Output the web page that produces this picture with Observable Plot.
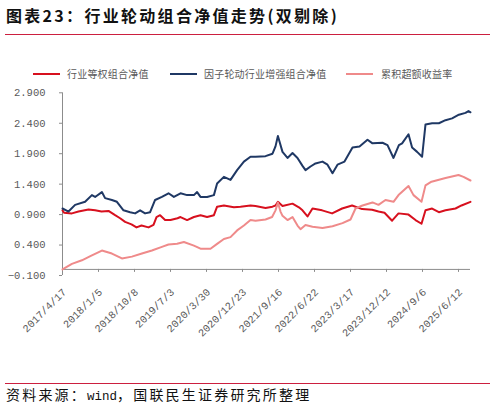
<!DOCTYPE html>
<html>
<head>
<meta charset="utf-8">
<script src="https://cdn.jsdelivr.net/npm/d3@7"></script>
<script src="https://cdn.jsdelivr.net/npm/@observablehq/plot@0.6"></script>
<style>
  body { margin: 0; background: #fff; }
  #wrap { position: relative; width: 495px; height: 407px; overflow: hidden; font-family: "Noto Sans CJK SC", sans-serif; }
  #title { position: absolute; left: 6px; top: 3px; font-size: 16px; font-weight: bold; letter-spacing: 2.3px; color: #111; white-space: nowrap; }
  .rule { position: absolute; left: 5px; width: 485px; height: 1px; background: #cc1f3f; }
  .leg { position: absolute; top: 67px; font-size: 10px; letter-spacing: 0.2px; color: #595959; white-space: nowrap; line-height: 14px; }
  .sw { position: absolute; top: 73px; height: 2px; }
  #chart { position: absolute; left: 0; top: 85px; }
  #caption { position: absolute; left: 6px; top: 385px; font-size: 14px; letter-spacing: 2.2px; color: #111; white-space: nowrap; line-height: 18px; }
  #caption .en { font-family: "Liberation Mono", monospace; font-size: 12.5px; letter-spacing: 0; }
</style>
</head>
<body>
<div id="wrap">
  <div id="title"></div>
  <div class="rule" style="top:34px"></div>
  <div id="legend"></div>
  <div id="chart"></div>
  <div class="rule" style="top:383px"></div>
  <div id="caption">资料来源：<span class="en">wind</span>，国联民生证券研究所整理</div>
</div>
<script>
const titleText = "图表23：行业轮动组合净值走势(双剔除)";
const seriesNames = ["行业等权组合净值", "因子轮动行业增强组合净值", "累积超额收益率"];
const seriesColors = ["#d7101e", "#1f3864", "#ef8a8a"];

const tickDays = [0, 180, 360, 540, 720, 900, 1080, 1260, 1440, 1620, 1800, 1980];
const tickLabels = ["2017/4/17", "2018/1/5", "2018/10/8", "2019/7/3", "2020/3/30", "2020/12/23",
  "2021/9/16", "2022/6/22", "2023/3/17", "2023/12/12", "2024/9/6", "2025/6/12"];
const yTicks = [-0.1, 0.4, 0.9, 1.4, 1.9, 2.4, 2.9];

// 行业等权组合净值 (trading-day index, value)
const redDay = [0, 8, 47, 80, 130, 163, 195, 230, 263, 288, 313, 345, 370, 395, 430, 455, 470, 488, 513, 540,
  575, 590, 623, 657, 690, 723, 757, 773, 807, 857, 890, 940, 965, 1015, 1050, 1065, 1077, 1100, 1150, 1182,
  1200, 1225, 1250, 1298, 1348, 1398, 1448, 1498, 1548, 1580, 1610, 1648, 1680, 1730, 1765, 1795, 1815, 1848,
  1882, 1915, 1965, 1995, 2040];
const redVal = [0.97, 0.93, 0.92, 0.95, 0.985, 0.97, 0.95, 0.96, 0.89, 0.84, 0.78, 0.74, 0.69, 0.72, 0.69, 0.73, 0.86, 0.89, 0.81, 0.81,
  0.84, 0.86, 0.81, 0.86, 0.89, 0.86, 0.89, 1.03, 1.05, 1.02, 1.03, 1.05, 1.04, 1.01, 1.03, 1.05, 1.11, 1.04, 1.08, 1.02,
  0.97, 0.87, 1.00, 0.97, 0.92, 1.00, 1.05, 0.99, 0.98, 0.95, 0.93, 0.80, 0.92, 0.90, 0.81, 0.75, 0.97, 1.00,
  0.94, 0.97, 1.00, 1.05, 1.11];

// 因子轮动行业增强组合净值
const blueDay = [0, 30, 63, 113, 147, 163, 197, 213, 247, 272, 305, 338, 363, 388, 413, 438, 463, 497, 530, 557,
  590, 623, 657, 673, 690, 723, 757, 773, 807, 840, 873, 907, 940, 965, 1015, 1050, 1065, 1077, 1100, 1125,
  1150, 1175, 1200, 1215, 1240, 1265, 1300, 1325, 1350, 1375, 1410, 1450, 1485, 1525, 1550, 1600, 1625, 1655,
  1682, 1698, 1730, 1748, 1773, 1798, 1815, 1848, 1882, 1915, 1948, 1982, 2015, 2030, 2040];
const blueVal = [1.00, 0.95, 1.06, 1.11, 1.22, 1.19, 1.27, 1.17, 1.14, 1.11, 0.97, 0.94, 0.92, 0.97, 0.92, 0.94, 1.14, 1.19, 1.25, 1.19,
  1.25, 1.22, 1.22, 1.27, 1.19, 1.19, 1.22, 1.41, 1.52, 1.47, 1.63, 1.77, 1.85, 1.85, 1.86, 1.90, 2.02, 2.19, 1.93, 1.83,
  1.91, 1.83, 1.70, 1.63, 1.69, 1.74, 1.77, 1.72, 1.58, 1.72, 1.77, 2.00, 2.02, 2.13, 2.07, 2.08, 2.04, 1.83,
  2.04, 2.07, 2.22, 2.00, 1.93, 1.85, 2.38, 2.40, 2.40, 2.45, 2.48, 2.54, 2.57, 2.60, 2.58];

// 累积超额收益率
const pinkDay = [0, 47, 97, 147, 197, 247, 297, 347, 397, 447, 497, 530, 573, 607, 657, 690, 740, 773, 807, 840,
  873, 907, 940, 965, 1015, 1048, 1065, 1077, 1090, 1100, 1125, 1150, 1175, 1190, 1215, 1250, 1300, 1350, 1400,
  1440, 1465, 1500, 1550, 1580, 1615, 1655, 1680, 1730, 1755, 1795, 1815, 1845, 1915, 1980, 2005, 2040];
const pinkVal = [0.00, 0.09, 0.15, 0.23, 0.31, 0.26, 0.18, 0.21, 0.26, 0.31, 0.37, 0.41, 0.42, 0.45, 0.39, 0.34, 0.34, 0.42, 0.50, 0.53,
  0.64, 0.72, 0.81, 0.80, 0.82, 0.86, 0.97, 1.10, 0.95, 0.88, 0.81, 0.86, 0.72, 0.66, 0.73, 0.70, 0.68, 0.71, 0.76,
  0.82, 1.00, 1.05, 1.10, 1.06, 1.14, 1.11, 1.22, 1.37, 1.22, 1.11, 1.38, 1.44, 1.50, 1.55, 1.52, 1.46];

document.getElementById("title").textContent = titleText;

// legend
const legPos = [[33, 67], [170, 204], [346, 381]];
const legend = document.getElementById("legend");
seriesNames.forEach((name, i) => {
  const sw = document.createElement("div");
  sw.className = "sw";
  sw.style.left = legPos[i][0] + "px";
  sw.style.width = "27px";
  sw.style.background = seriesColors[i];
  legend.appendChild(sw);
  const t = document.createElement("div");
  t.className = "leg";
  t.style.left = legPos[i][1] + "px";
  t.textContent = name;
  legend.appendChild(t);
});

const rows = [];
redDay.forEach((d, i) => rows.push({s: seriesNames[0], day: d, v: redVal[i]}));
blueDay.forEach((d, i) => rows.push({s: seriesNames[1], day: d, v: blueVal[i]}));
pinkDay.forEach((d, i) => rows.push({s: seriesNames[2], day: d, v: pinkVal[i]}));

const axisGray = "#8c8c8c";
const labelGray = "#595959";

const chart = Plot.plot({
  width: 495,
  height: 255,
  marginLeft: 62,
  marginRight: 25,
  marginTop: 7.3,
  marginBottom: 71.1,
  style: {fontFamily: "'Liberation Mono', 'DejaVu Sans Mono', monospace", fontSize: "10.5px", color: labelGray, background: "transparent"},
  x: {domain: [0, 2040], label: null},
  y: {domain: [-0.1, 2.9], range: [190, 7.3], label: null},
  color: {domain: seriesNames, range: seriesColors},
  marks: [
    Plot.ruleX([0], {y1: -0.1, y2: 2.9, stroke: axisGray}),
    Plot.ruleY([0], {stroke: axisGray}),
    Plot.axisY({ticks: yTicks, tickSize: 3, tickPadding: 14, tickFormat: d3.format(".3f"), stroke: axisGray, fill: labelGray, label: null}),
    Plot.axisX({ticks: tickDays, tickSize: 3, tickFormat: () => "", stroke: axisGray, label: null}),
    Plot.text(tickDays, {x: d => d, frameAnchor: "bottom", text: (d, i) => tickLabels[i], rotate: -45,
      textAnchor: "end", lineAnchor: "middle", dx: 2, dy: 21, fill: labelGray}),
    Plot.line(rows, {x: "day", y: "v", z: "s", stroke: "s", strokeWidth: 2, curve: "linear"})
  ]
});
document.getElementById("chart").appendChild(chart);
</script>
</body>
</html>
